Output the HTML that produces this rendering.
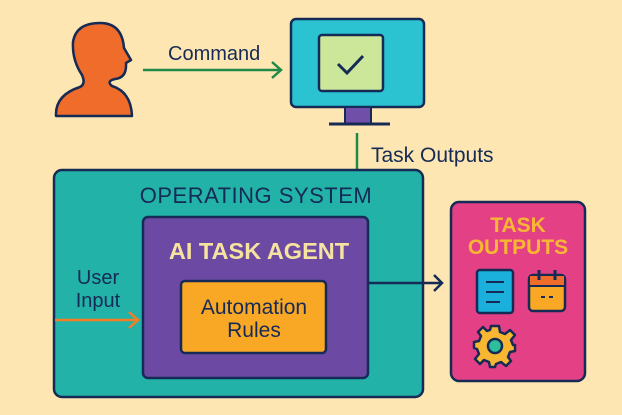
<!DOCTYPE html>
<html><head><style>
html,body{margin:0;padding:0;background:#fde6b2;}
svg{display:block}
text{font-family:"Liberation Sans",sans-serif;}
</style></head><body>
<svg width="622" height="415" viewBox="0 0 622 415">
<rect width="622" height="415" fill="#fde6b2"/>
<path d="M56,116 Q55,95 80,87 Q86,84 82,75 Q72,60 73,42 Q76,23 100,23 Q122,23 124,48 L131,60 L126,63 Q127,78 115,79 Q106,81 112,86 Q131,92 132,116 Z" fill="#ef6c2b" stroke="#152a55" stroke-width="2.5" stroke-linejoin="round"/>
<line x1="143" y1="70" x2="281" y2="70" stroke="#1f8a47" stroke-width="2.5"/>
<polyline points="272,62 281,70 272,78" fill="none" stroke="#1f8a47" stroke-width="2.5"/>
<text x="168" y="60" font-size="20" fill="#152a55">Command</text>
<rect x="291" y="19" width="133" height="88" rx="5" fill="#2bc3d1" stroke="#152a55" stroke-width="2.5"/>
<rect x="319" y="35" width="64" height="56" rx="3" fill="#cce79a" stroke="#152a55" stroke-width="2.5"/>
<polyline points="338,64 347,73 363,56" fill="none" stroke="#152a55" stroke-width="3"/>
<rect x="345" y="107" width="26" height="17" fill="#6f4fa8" stroke="#152a55" stroke-width="2"/>
<line x1="329" y1="124" x2="390" y2="124" stroke="#152a55" stroke-width="3"/>
<line x1="357" y1="133" x2="357" y2="170" stroke="#1f8a47" stroke-width="2.5"/>
<text x="371" y="162" font-size="21" fill="#152a55">Task Outputs</text>
<rect x="54" y="170" width="369" height="227" rx="8" fill="#22b2a8" stroke="#152a55" stroke-width="2.5"/>
<text x="256" y="203" font-size="22" fill="#152a55" text-anchor="middle" letter-spacing="0.5">OPERATING SYSTEM</text>
<rect x="143" y="217" width="225" height="161" rx="5" fill="#6c4aa3" stroke="#152a55" stroke-width="2.5"/>
<text x="259" y="259" font-size="23.5" font-weight="bold" fill="#f7e3a0" text-anchor="middle">AI TASK AGENT</text>
<rect x="181" y="281" width="145" height="72" rx="4" fill="#f8a825" stroke="#152a55" stroke-width="2.5"/>
<text x="254" y="314" font-size="21" fill="#152a55" text-anchor="middle">Automation</text>
<text x="254" y="337" font-size="21" fill="#152a55" text-anchor="middle">Rules</text>
<text x="98" y="284" font-size="20" fill="#152a55" text-anchor="middle">User</text>
<text x="98" y="307" font-size="20" fill="#152a55" text-anchor="middle">Input</text>
<line x1="55" y1="320" x2="138" y2="320" stroke="#f57e25" stroke-width="2.5"/>
<polyline points="129,312 138,320 129,328" fill="none" stroke="#f57e25" stroke-width="2.5"/>
<line x1="368" y1="283" x2="442" y2="283" stroke="#152a55" stroke-width="2.5"/>
<polyline points="434,275 442,283 434,291" fill="none" stroke="#152a55" stroke-width="2.5"/>
<rect x="451" y="202" width="134" height="179" rx="8" fill="#e34085" stroke="#152a55" stroke-width="2.5"/>
<text x="518" y="232" font-size="21" font-weight="bold" fill="#f8b733" text-anchor="middle">TASK</text>
<text x="518" y="254" font-size="21" font-weight="bold" fill="#f8b733" text-anchor="middle">OUTPUTS</text>
<rect x="477" y="270" width="36" height="43" rx="3" fill="#1bb0dc" stroke="#152a55" stroke-width="2.5"/>
<line x1="486" y1="282" x2="504" y2="282" stroke="#152a55" stroke-width="2"/>
<line x1="486" y1="292" x2="504" y2="292" stroke="#152a55" stroke-width="2"/>
<line x1="486" y1="302" x2="500" y2="302" stroke="#152a55" stroke-width="2"/>
<rect x="529" y="275" width="36" height="36" rx="4" fill="#f8a825" stroke="#152a55" stroke-width="2.5"/>
<rect x="530" y="276" width="34" height="9" fill="#ef6c2b"/>
<line x1="529" y1="286" x2="565" y2="286" stroke="#152a55" stroke-width="2"/>
<line x1="539" y1="270" x2="539" y2="280" stroke="#152a55" stroke-width="3"/>
<line x1="555" y1="270" x2="555" y2="280" stroke="#152a55" stroke-width="3"/>
<line x1="541" y1="297" x2="545" y2="297" stroke="#152a55" stroke-width="2"/>
<line x1="549" y1="297" x2="553" y2="297" stroke="#152a55" stroke-width="2"/>
<g transform="translate(495,346)">
<path d="M-4,-20 L4,-20 L5,-14 L10,-12 L15,-16 L20,-11 L16,-6 L18,-1 L20,-1 L20,5 L15,6 L13,11 L16,15 L11,20 L6,16 L1,18 L0,21 L-5,21 L-6,16 L-11,14 L-15,18 L-20,13 L-16,8 L-18,3 L-21,2 L-21,-4 L-16,-5 L-14,-10 L-17,-14 L-12,-19 L-8,-15 L-5,-16 Z" fill="#f8b733" stroke="#152a55" stroke-width="2.5" stroke-linejoin="round"/>
<circle cx="0" cy="0" r="7" fill="#2dbf9c" stroke="#152a55" stroke-width="2.5"/>
</g>
</svg>
</body></html>
